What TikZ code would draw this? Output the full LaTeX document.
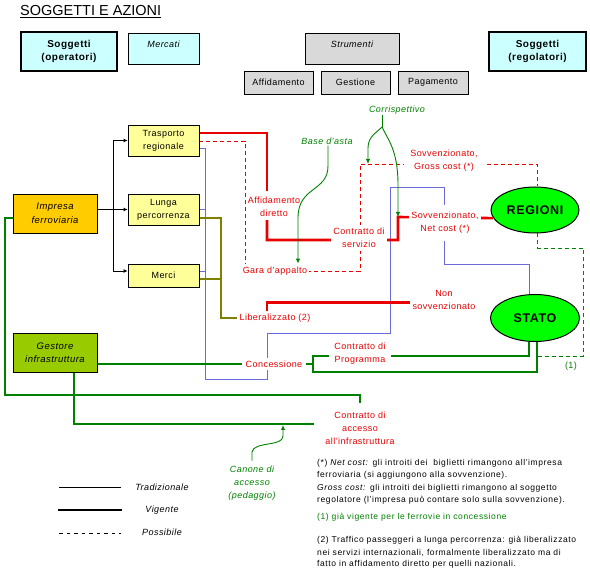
\documentclass[tikz,border=0pt]{standalone}
\usepackage{fontspec}
\setmainfont{Liberation Sans}[LetterSpace=5]
\newfontfamily\titlefont{Liberation Sans}
\usetikzlibrary{arrows.meta,shapes.geometric,backgrounds,calc}
\definecolor{cyanbox}{HTML}{CCFFFF}
\definecolor{greybox}{HTML}{D9D9D9}
\definecolor{yelbox}{HTML}{FFFF99}
\definecolor{orbox}{HTML}{FFCC00}
\definecolor{lgbox}{HTML}{99CC00}
\definecolor{ellg}{HTML}{00FF00}
\definecolor{rd}{HTML}{E80000}
\definecolor{gr}{HTML}{008000}
\definecolor{ol}{HTML}{808000}
\definecolor{bl}{HTML}{6A6AD8}
\begin{document}
\begin{tikzpicture}[x=1pt,y=-1pt,
  font=\fontsize{9}{13}\selectfont,
  bx/.style={draw=black,line width=0.8pt,align=center,inner sep=0pt},
  hdr/.style={bx,line width=1.7pt,fill=cyanbox,minimum width=96pt,minimum height=39pt,font=\bfseries\fontsize{10}{13.5}\selectfont},
  topbx/.style={bx,minimum height=31pt,text height=7pt,text depth=8pt,font=\itshape\fontsize{9}{13}\selectfont},
  toolbx/.style={bx,fill=greybox,minimum width=69pt,minimum height=23pt},
  mktbx/.style={bx,fill=yelbox,minimum width=71pt},
  actbx/.style={bx,minimum width=84pt,minimum height=39pt,font=\itshape\fontsize{9.5}{13.5}\selectfont},
  regbx/.style={ellipse,draw=black,line width=1pt,fill=ellg,inner sep=0pt,minimum width=88pt,minimum height=46pt,font=\bfseries\fontsize{12.5}{14}\selectfont},
  lbl/.style={text=rd,fill=white,align=center,inner xsep=2pt,inner ysep=3pt},
  glbl/.style={text=gr,align=center,inner sep=1pt,font=\itshape\fontsize{9}{13}\selectfont},
  blk/.style={draw=black,line width=0.8pt,-{Latex[length=4pt,width=4pt]}},
  bluel/.style={draw=bl,line width=0.9pt},
  olivel/.style={draw=ol,line width=2.6pt},
  redl/.style={draw=rd,line width=2.6pt},
  reddash/.style={draw=rd,line width=0.9pt,dash pattern=on 4pt off 3pt},
  greenl/.style={draw=gr,line width=2.6pt},
  greenthin/.style={draw=gr,line width=1.2pt},
  greendash/.style={draw=gr,line width=0.9pt,dash pattern=on 4pt off 3pt},
  garrow/.style={draw=gr,line width=0.9pt,-{Latex[length=5pt,width=4.5pt]}},
  notes/.style={anchor=base west,inner sep=0pt,font=\fontsize{8.5}{12}\selectfont\addfontfeatures{LetterSpace=7}}
]
\useasboundingbox (0,0) rectangle (590,580);

% title
\node[anchor=base west,inner sep=0pt,font=\titlefont\fontsize{14.5}{16}\selectfont] (title) at (20,16) {\underline{SOGGETTI E AZIONI}};

% header boxes
\node[hdr] (sogop) at (69,51.5) {Soggetti\\(operatori)};
\node[topbx,fill=cyanbox,minimum width=71pt] (mercati) at (163.5,48.5) {Mercati};
\node[topbx,fill=greybox,minimum width=94pt] (strum) at (352,48.5) {Strumenti};
\node[toolbx] (affid) at (278.5,82.5) {Affidamento};
\node[toolbx] (gest) at (355.5,82.5) {Gestione};
\node[toolbx,minimum width=70pt] (pagam) at (433,82.5) {Pagamento};
\node[hdr,minimum width=97pt] (sogreg) at (537.5,51.5) {Soggetti\\(regolatori)};

% markets
\node[mktbx,minimum height=31pt] (trasp) at (163.5,140.5) {Trasporto\\regionale};
\node[mktbx,minimum height=31pt] (lunga) at (163.5,209.5) {Lunga\\percorrenza};
\node[mktbx,minimum height=23pt] (merci) at (163.5,275.5) {Merci};

% actors
\node[actbx,fill=orbox] (impresa) at (55,213.5) {Impresa\\ferroviaria};
\node[actbx,fill=lgbox] (gestore) at (55,352.5) {Gestore\\infrastruttura};
\node[regbx] (regioni) at (535,210) {REGIONI};
\node[regbx,minimum width=89pt,minimum height=47pt] (stato) at (535,318) {STATO};

% labels
\node[text=rd,align=center,inner xsep=1pt,inner ysep=3pt] (affdir) at (274,207) {Affidamento\\diretto};
\node[lbl] (gara) at (275,271) {Gara d'appalto};
\node[lbl] (contserv) at (359,238) {Contratto di\\servizio};
\node[lbl,inner xsep=6pt] (gross) at (444,161) {Sovvenzionato,\\Gross cost (*)};
\node[lbl,inner ysep=7pt] (net) at (445,223) {Sovvenzionato,\\Net cost (*)};
\node[lbl] (nonsov) at (444,300) {Non\\sovvenzionato};
\node[lbl] (liberal) at (275,318) {Liberalizzato (2)};
\node[lbl,inner xsep=4pt] (conc) at (274,364) {Concessione};
\node[lbl,inner xsep=5pt] (contprog) at (360,354) {Contratto di\\Programma};
\node[lbl] (contacc) at (360,428) {Contratto di\\accesso\\all'infrastruttura};
\node[glbl] (base) at (327,141) {Base d'asta};
\node[glbl] (corr) at (397,110) {Corrispettivo};
\node[glbl] (canone) at (252,483) {Canone di\\accesso\\(pedaggio)};
\node[text=gr,inner sep=1pt] (uno) at (571,366) {(1)};

% helper coordinates
\coordinate (fork) at (113,209.5);
\coordinate (bv) at (205,148);
\coordinate (ov) at (221,218);
\coordinate (m1) at ([yshift=4.5pt]merci.east);
\coordinate (m2) at ([yshift=-3.5pt]merci.east);
\coordinate (cA) at (398,217);
\coordinate (cB) at (368,164);
\coordinate (cC) at (283,425);
\coordinate (cp) at (313,364);
\coordinate (gd) at (537,356);
\coordinate (cs) at (382,127);

\begin{pgfonlayer}{background}
% blue
\draw[bluel] ([yshift=-7.5pt]trasp.east) -- (bv) -- (205,379) -- (267,379) -- (267,333) -- (390,333) -- (390,187) -- (444,187) -- (444,264) -| ([xshift=-6pt]stato.north);
\draw[bluel] (lunga.east) -- (lunga.east -| bv);
\draw[bluel] (m1) -- (m1 -| bv);
% olive
\draw[olivel] ([yshift=-8.5pt]lunga.east) -- (ov) |- (liberal.west);
\draw[olivel] (m2) -- (m2 -| ov);
% red
\draw[reddash] ([yshift=-0.5pt]trasp.east) -- (245,141) -- (245,271) -- (360,271) -- (360,164) -| ([xshift=2pt]regioni.north);
\draw[redl] ([yshift=7.5pt]trasp.east) -| ([xshift=-7pt,yshift=3pt]affdir.north);
\draw[redl] ([xshift=-7pt]affdir.south) |- ([yshift=-2pt]contserv.center) -- (398,240) -- (cA) -- (regioni.191);
\draw[redl] ([xshift=-8pt]liberal.north) |- ([yshift=-2.5pt]nonsov.west);
% green
\draw[greendash] ([xshift=2pt]regioni.south) -- (537,248) -- (583,248) -- (583,356) -- (gd);
\draw[greenthin] (cp) -- (313,372) -| (stato.275);
\draw[greenl] ([yshift=-11.5pt]gestore.east) -- (cp) -- (313,356) -| (stato.256);
\draw[greenl] ([yshift=-4.5pt]impresa.west) -- (5,218) -- (5,395) -| ([yshift=5pt]contacc.north);
\draw[greenl] ([xshift=19pt]gestore.south) |- ([xshift=-9pt,yshift=4pt]contacc.west);
\end{pgfonlayer}

% black tree
\draw[blk] (impresa.east |- lunga.west) -- (lunga.west);
\draw[blk] (fork) |- (trasp.west);
\draw[blk] (fork) |- ([yshift=4.5pt]merci.west);

% green arrows
\draw[garrow] ([xshift=1pt]base.south) -- (328,166) .. controls (328,192) and (298,186) .. (298,218) -- ([xshift=23pt]gara.north);
\draw[draw=gr,line width=0.9pt] ([xshift=-15pt]corr.south) -- (cs);
\draw[garrow] (cs) .. controls (376,133) and (368,137) .. (368,148) -- (cB);
\draw[garrow] (cs) .. controls (388,140) and (398,150) .. (398,185) -- (cA);
\draw[garrow] ([yshift=4pt]canone.north) -- (252,452) .. controls (254,441) and (283,447) .. (283,436) -- (cC);

% legend
\coordinate (lg1) at (59,487);
\coordinate (lg2) at (58,510);
\coordinate (lg3) at (59,533);
\node[anchor=base,inner sep=0pt,font=\itshape\fontsize{9}{13}\selectfont] (lt1) at (162,490) {Tradizionale};
\node[anchor=base,inner sep=0pt,font=\itshape\fontsize{9}{13}\selectfont] (lt2) at (162,513) {Vigente};
\node[anchor=base,inner sep=0pt,font=\itshape\fontsize{9}{13}\selectfont] (lt3) at (162,536) {Possibile};
\draw[black,line width=0.9pt] (lg1) -- ++(62,0);
\draw[black,line width=2.6pt] (lg2) -- ++(64,0);
\draw[black,line width=0.9pt,dash pattern=on 3.5pt off 4pt] (lg3) -- ++(62,0);

% notes
\node[notes] (n1) at (317,466) {(*) \textit{Net cost:} gli introiti dei\ \ biglietti rimangono all'impresa};
\node[notes] (n2) at (317,478) {ferroviaria (si aggiungono alla sovvenzione).};
\node[notes] (n3) at (317,490) {\textit{Gross cost:} gli introiti dei biglietti rimangono al soggetto};
\node[notes] (n4) at (317,503) {regolatore (l'impresa può contare solo sulla sovvenzione).};
\node[notes,text=gr] (n5) at (317,520) {(1) già vigente per le ferrovie in concessione};
\node[notes] (n6) at (317,542) {(2) Traffico passeggeri a lunga percorrenza: già liberalizzato};
\node[notes] (n7) at (317,555) {nei servizi internazionali, formalmente liberalizzato ma di};
\node[notes] (n8) at (317,566) {fatto in affidamento diretto per quelli nazionali.};
\end{tikzpicture}
\end{document}
